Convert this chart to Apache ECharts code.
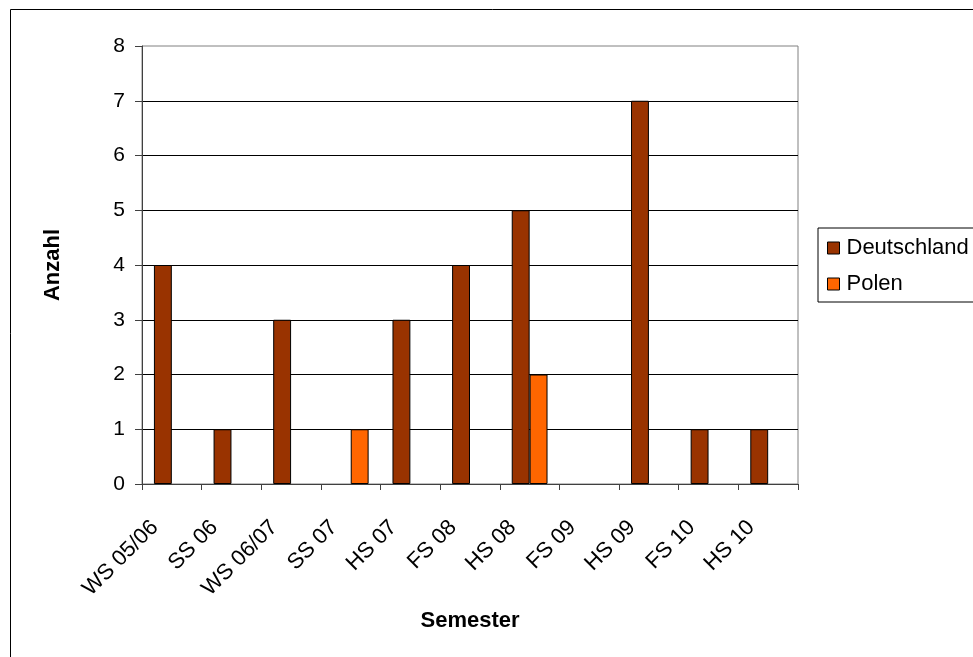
<!DOCTYPE html>
<html>
<head>
<meta charset="utf-8">
<script src="https://cdn.jsdelivr.net/npm/echarts@6/dist/echarts.min.js"></script>
<style>
html,body{margin:0;padding:0;background:#fff;}
#c{width:973px;height:657px;}
</style>
</head>
<body>
<div id="c"></div>
<script>
const categories = ['WS 05/06','SS 06','WS 06/07','SS 07','HS 07','FS 08','HS 08','FS 09','HS 09','FS 10','HS 10'];
const deutschland = [4,1,3,0,3,4,5,0,7,1,1];
const polen = [0,0,0,1,0,0,2,0,0,0,0];
const yTicks = [0,1,2,3,4,5,6,7,8];

// zero values are not drawn as bars (like the original)
const hideZero = arr => arr.map(v => (v === 0 ? '-' : v));

const font = 'Liberation Sans, Arial, sans-serif';
const chart = echarts.init(document.getElementById('c'), null, {renderer:'canvas'});
chart.setOption({
  animation:false,
  backgroundColor:'#fff',
  textStyle:{fontFamily:font},
  graphic:[{
    type:'rect', z:-10, silent:true,
    shape:{x:10.5,y:9.5,width:1000,height:700},
    style:{fill:'none',stroke:'#000',lineWidth:1}
  }],
  grid:{left:142,right:175,top:46,bottom:173,show:true,borderColor:'#808080',borderWidth:1,backgroundColor:'#fff'},
  legend:{
    orient:'vertical', left:818, top:228,
    data:['Deutschland','Polen'],
    itemWidth:12, itemHeight:12, itemGap:14,
    icon:'rect',
    borderColor:'#000', borderWidth:1,
    padding:[9,40,7,9],
    textStyle:{fontFamily:font,fontSize:22,color:'#000',padding:[0,0,0,2]},
    itemStyle:{borderColor:'#000',borderWidth:1}
  },
  xAxis:{
    type:'category', data:categories,
    name:'Semester', nameLocation:'middle', nameGap:126,
    nameTextStyle:{fontFamily:font,fontSize:22,fontWeight:'bold',color:'#000'},
    axisLine:{lineStyle:{color:'#404040',width:1}},
    axisTick:{show:true,length:6,lineStyle:{color:'#404040'}},
    axisLabel:{rotate:45,fontFamily:font,fontSize:22,color:'#000',margin:23,padding:[0,24,0,0],interval:0},
    splitLine:{show:false}
  },
  yAxis:{
    type:'value', min:0, max:yTicks[yTicks.length-1], interval:1,
    name:'Anzahl', nameLocation:'middle', nameGap:78, nameRotate:90,
    nameTextStyle:{fontFamily:font,fontSize:22,fontWeight:'bold',color:'#000'},
    axisLine:{show:true,lineStyle:{color:'#404040',width:1}},
    axisTick:{show:true,length:7,lineStyle:{color:'#404040'}},
    axisLabel:{fontFamily:font,fontSize:21,color:'#000',margin:17},
    splitLine:{show:true,showMaxLine:false,lineStyle:{color:'#000',width:1}}
  },
  series:[
    {name:'Deutschland',type:'bar',data:hideZero(deutschland),barGap:'0%',barCategoryGap:'40%',
     itemStyle:{color:'#993300',borderColor:'#000',borderWidth:1}},
    {name:'Polen',type:'bar',data:hideZero(polen),
     itemStyle:{color:'#FF6600',borderColor:'#000',borderWidth:1}}
  ]
});
</script>
</body>
</html>
